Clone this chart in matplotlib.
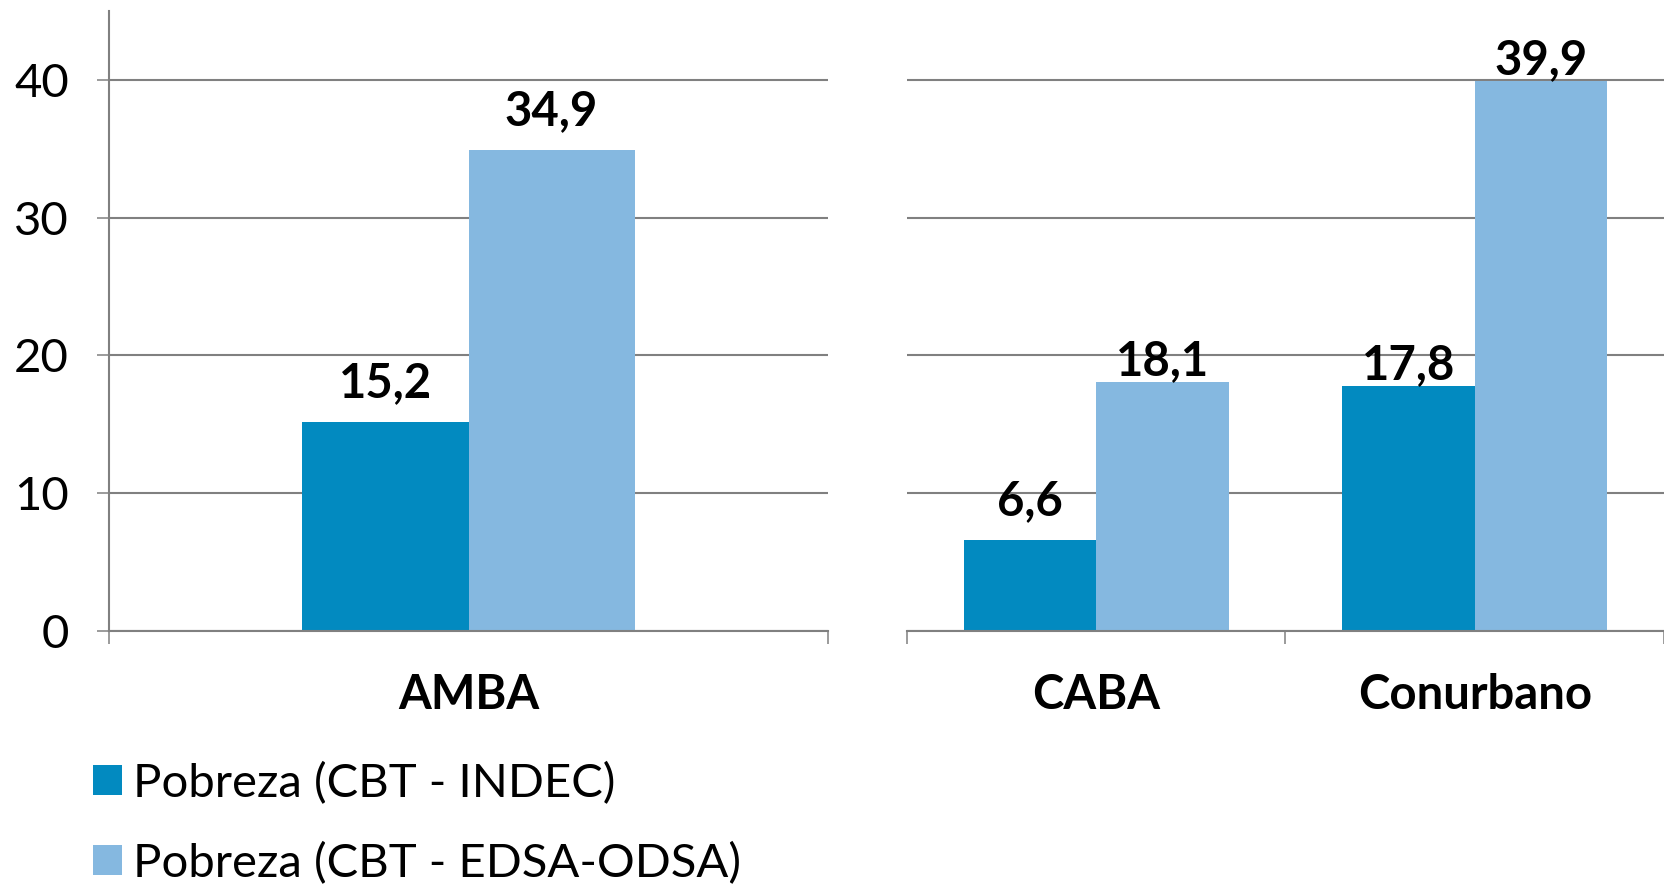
import matplotlib.pyplot as plt
from matplotlib.patches import Patch

# data
left_categories = ['AMBA']
left_indec = [15.2]
left_edsa = [34.9]

right_categories = ['CABA', 'Conurbano']
right_indec = [6.6, 17.8]
right_edsa = [18.1, 39.9]

series_names = ['Pobreza (CBT - INDEC)', 'Pobreza (CBT - EDSA-ODSA)']
y_ticks = [0, 10, 20, 30, 40]

# style
dark_blue = '#028ac0'
light_blue = '#85b8e0'
grid_gray = '#808080'
font_name = ['Lato', 'DejaVu Sans']
fs = 34

plt.rcParams['font.family'] = font_name


def fmt(v):
    return f'{v:.1f}'.replace('.', ',')


def style_axis(ax, n_cat, show_y):
    ax.set_ylim(0, 45)
    ax.set_xlim(-0.5, n_cat - 0.5)
    ax.set_yticks(y_ticks)
    ax.yaxis.grid(True, color=grid_gray, linewidth=1.5)
    ax.set_axisbelow(True)
    for s in ['top', 'right']:
        ax.spines[s].set_visible(False)
    ax.spines['bottom'].set_color(grid_gray)
    ax.spines['bottom'].set_linewidth(1.5)
    if show_y:
        ax.spines['left'].set_color(grid_gray)
        ax.spines['left'].set_linewidth(1.5)
        ax.tick_params(axis='y', direction='out', length=9, width=1.1,
                       color=grid_gray, pad=20, labelsize=fs)
    else:
        ax.spines['left'].set_visible(False)
        ax.tick_params(axis='y', length=0, labelleft=False)
    ax.set_xticks(range(n_cat))
    ax.set_xticks([i - 0.5 for i in range(n_cat + 1)], minor=True)
    ax.tick_params(axis='x', which='major', length=0, pad=30)
    ax.tick_params(axis='x', which='minor', direction='out', length=9,
                   width=1.1, color=grid_gray)
    for lbl in ax.get_xticklabels():
        lbl.set_fontsize(fs)
        lbl.set_fontweight('bold')


def draw_group(ax, cats, indec, edsa, width, offsets):
    x = list(range(len(cats)))
    b1 = ax.bar([i - width / 2 for i in x], indec, width, color=dark_blue)
    b2 = ax.bar([i + width / 2 for i in x], edsa, width, color=light_blue)
    k = 0
    for bars in (b1, b2):
        for rect in bars:
            h = rect.get_height()
            ax.annotate(fmt(h), (rect.get_x() + rect.get_width() / 2, h),
                        xytext=(0, offsets[k]), textcoords='offset points',
                        ha='center', va='center', fontsize=fs,
                        fontweight='bold', annotation_clip=False)
            k += 1
    ax.set_xticks(x)
    ax.set_xticklabels(cats)


fig = plt.figure(figsize=(16.65, 8.86), dpi=100)
ax1 = fig.add_axes([0.0655, 0.2878, 0.4318, 0.6998])
ax2 = fig.add_axes([0.5447, 0.2878, 0.4547, 0.6998])

draw_group(ax1, left_categories, left_indec, left_edsa, 0.231, [28, 28])
draw_group(ax2, right_categories, right_indec, right_edsa, 0.35, [28, 15, 15, 15])
style_axis(ax1, len(left_categories), True)
style_axis(ax2, len(right_categories), False)

handles = [Patch(facecolor=dark_blue), Patch(facecolor=light_blue)]
fig.legend(handles, series_names, loc='upper left',
           bbox_to_anchor=(0.056, 0.140), frameon=False, fontsize=fs,
           handlelength=0.6, handleheight=0.6, handletextpad=0.25,
           labelspacing=0.78, borderpad=0, borderaxespad=0)

fig.savefig('out.png', dpi=100)
